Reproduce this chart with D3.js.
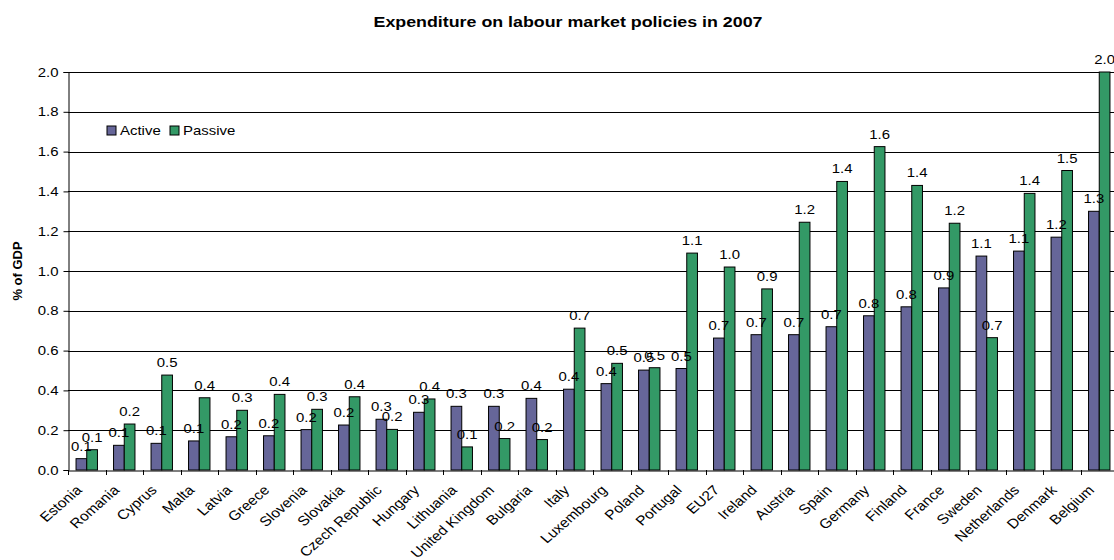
<!DOCTYPE html>
<html><head><meta charset="utf-8">
<script src="https://cdn.jsdelivr.net/npm/d3@7"></script>
<style>body{margin:0;background:#fff;} svg{display:block;} text{font-family:"Liberation Sans",Arial,sans-serif;fill:#000;}</style>
</head><body>
<svg id="c" width="1114" height="560"></svg>
<script>
const categories = ["Estonia","Romania","Cyprus","Malta","Latvia","Greece","Slovenia","Slovakia","Czech Republic","Hungary","Lithuania","United Kingdom","Bulgaria","Italy","Luxembourg","Poland","Portugal","EU27","Ireland","Austria","Spain","Germany","Finland","France","Sweden","Netherlands","Denmark","Belgium"];
const active  = [0.057,0.124,0.134,0.146,0.167,0.172,0.203,0.226,0.255,0.29,0.32,0.32,0.36,0.406,0.434,0.502,0.51,0.663,0.68,0.68,0.72,0.775,0.82,0.915,1.075,1.10,1.17,1.30];
const passive = [0.102,0.231,0.477,0.363,0.30,0.38,0.305,0.368,0.204,0.357,0.116,0.158,0.153,0.713,0.536,0.514,1.09,1.02,0.91,1.245,1.45,1.625,1.43,1.24,0.665,1.39,1.505,2.0];
const seriesNames = ["Active","Passive"];
const yTicks = [0,0.2,0.4,0.6,0.8,1.0,1.2,1.4,1.6,1.8,2.0];
const title = "Expenditure on labour market policies in 2007";
const yTitle = "% of GDP";

const colors = {Active:"#666699", Passive:"#339966"};
const SX = 1.15; // horizontal text stretch of the reference
const svg = d3.select("#c");
const L = 68, R = 1118, T = 72, B = 470;
const x = d3.scaleBand().domain(categories).range([L, R]).padding(0);
const y = d3.scaleLinear().domain([0, 2]).range([B, T]);
const bw = x.bandwidth() / 3.5;
const fmt = d3.format(".1f");

// gridlines
svg.append("g").selectAll("line").data(yTicks.filter(d => d > 0)).join("line")
  .attr("x1", L).attr("x2", R).attr("y1", d => Math.round(y(d)) + 0.5).attr("y2", d => Math.round(y(d)) + 0.5)
  .attr("stroke", "#000").attr("stroke-width", 1);

// bars
const data = [];
categories.forEach((c, i) => {
  data.push({c, s:"Active", v:active[i], x: x(c) + x.bandwidth()/2 - bw});
  data.push({c, s:"Passive", v:passive[i], x: x(c) + x.bandwidth()/2});
});
svg.append("g").selectAll("rect").data(data).join("rect")
  .attr("x", d => d.x).attr("width", bw)
  .attr("y", d => y(d.v)).attr("height", d => y(0) - y(d.v))
  .attr("fill", d => colors[d.s]).attr("stroke", "#000").attr("stroke-width", 1);

// value labels
svg.append("g").selectAll("text").data(data).join("text")
  .attr("transform", d => `translate(${d.x + bw/2},${y(d.v) - 8}) scale(${SX},1)`)
  .attr("text-anchor", "middle").attr("font-size", 13)
  .text(d => fmt(d.v));

// axes
const ya = d3.axisLeft(y).tickValues(yTicks).tickFormat(d3.format(".1f")).tickSize(5).tickPadding(5);
const yg = svg.append("g").attr("transform", `translate(${L + 0.5},0)`).call(ya);
yg.select(".domain").attr("stroke", "#000");
yg.selectAll(".tick line").attr("stroke", "#000");
yg.selectAll(".tick text").attr("font-size", 13).attr("font-family", "Liberation Sans, Arial, sans-serif")
  .attr("transform", `scale(${SX},1)`).attr("x", -10 / SX);

const xa = d3.axisBottom(x).tickValues([]).tickSize(0);
const xg = svg.append("g").attr("transform", `translate(0,${B + 0.5})`).call(xa);
xg.select(".domain").attr("stroke", "#000");
// band-boundary ticks
svg.append("g").selectAll("line").data(categories.map(c => x(c)).concat([R])).join("line")
  .attr("x1", d => Math.round(d) + 0.5).attr("x2", d => Math.round(d) + 0.5)
  .attr("y1", B).attr("y2", B + 5).attr("stroke", "#000");

// category labels
svg.append("g").selectAll("text").data(categories).join("text")
  .attr("transform", c => `translate(${x(c) + x.bandwidth()/2 - 4},${B + 21}) scale(${SX},1) rotate(-45)`)
  .attr("text-anchor", "end").attr("font-size", 13.5)
  .text(c => c);

// title
svg.append("text").attr("transform", `translate(568,27) scale(${SX},1)`)
  .attr("text-anchor", "middle").attr("font-size", 15.5).attr("font-weight", "bold").text(title);

// y title
svg.append("text").attr("transform", `translate(22,271) rotate(-90)`)
  .attr("text-anchor", "middle").attr("font-size", 13).attr("font-weight", "bold").text(yTitle);

// legend
const lg = svg.append("g");
const lx = [107, 170];
seriesNames.forEach((s, i) => {
  lg.append("rect").attr("x", lx[i]).attr("y", 126).attr("width", 9).attr("height", 9)
    .attr("fill", colors[s]).attr("stroke", "#000");
  lg.append("text").attr("transform", `translate(${lx[i] + 13},135) scale(${SX},1)`)
    .attr("font-size", 13).text(s);
});
</script>
</body></html>
